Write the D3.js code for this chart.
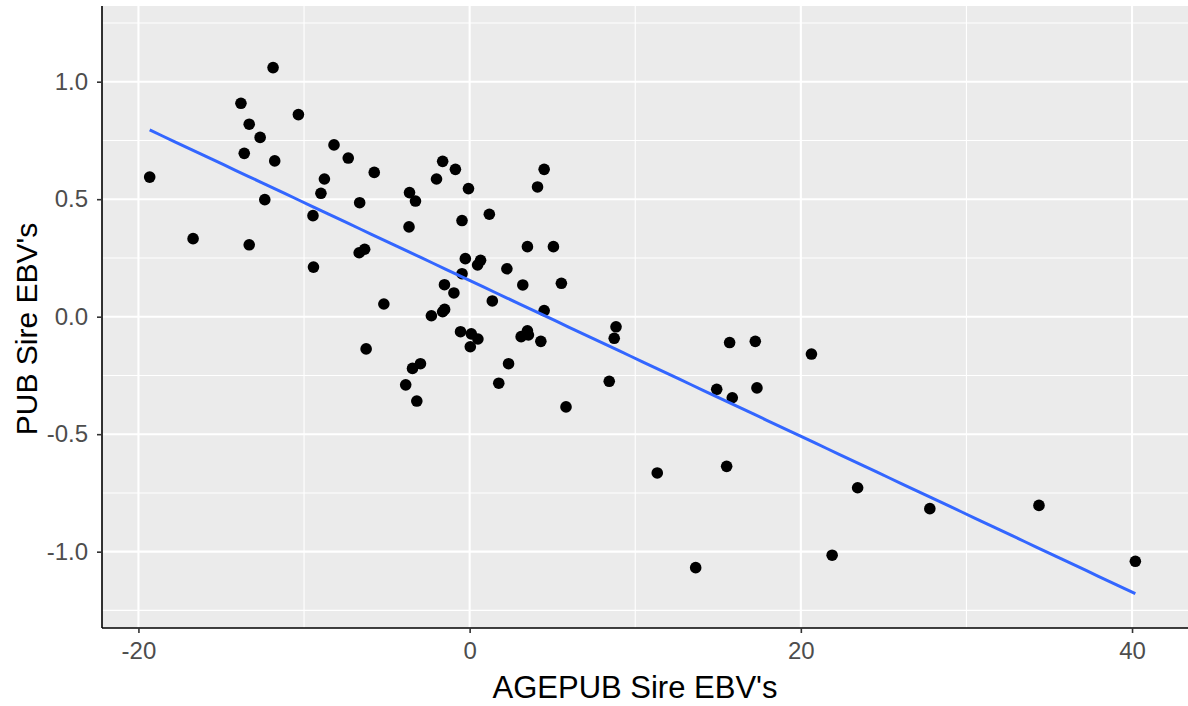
<!DOCTYPE html>
<html>
<head>
<meta charset="utf-8">
<script src="https://cdn.jsdelivr.net/npm/d3@7"></script>
<style>
  html, body { margin: 0; padding: 0; background: #ffffff; }
  svg { display: block; }
  text { font-family: "Liberation Sans", Arial, sans-serif; }
</style>
</head>
<body>
<svg id="chart" width="1188" height="706"></svg>
<script>
// Sire EBVs: age at puberty (x) against puberty (y)
const ageEBV = [
  -19.32, -16.7, -13.81, -13.61, -13.31, -13.31, -12.65, -12.37, -11.87, -11.77,
  -10.34, -9.46, -9.43, -8.98, -8.77, -8.19, -7.33, -6.67, -6.34, -6.64,
  -6.25, -5.76, -5.18, -3.86, -3.66, -3.63, -3.45, -3.27, -3.19, -2.97,
  -2.31, -2.0, -1.63, -1.63, -1.52, -1.51, -0.95, -0.86, -0.55, -0.46,
  -0.46, -0.26, -0.07, 0.1, 0.5, 0.04, 0.48, 0.66, 1.19, 1.37,
  1.76, 2.25, 2.35, 3.11, 3.49, 3.55, 3.21, 3.49, 4.1, 4.3,
  4.5, 4.5, 5.06, 5.54, 5.82, 8.43, 8.73, 8.84, 11.33, 13.65,
  14.92, 15.52, 15.7, 15.86, 17.25, 17.35, 20.64, 21.89, 23.43, 27.79,
  34.38, 40.2
];
const pubEBV = [
  0.594, 0.332, 0.908, 0.695, 0.819, 0.306, 0.763, 0.498, 1.06, 0.663,
  0.86, 0.43, 0.211, 0.525, 0.586, 0.731, 0.675, 0.272, 0.287, 0.485,
  -0.137, 0.614, 0.054, -0.29, 0.382, 0.528, -0.22, 0.492, -0.359, -0.2,
  0.004, 0.586, 0.661, 0.021, 0.136, 0.031, 0.101, 0.627, -0.064, 0.409,
  0.183, 0.247, 0.545, -0.073, -0.095, -0.128, 0.22, 0.24, 0.436, 0.067,
  -0.283, 0.204, -0.2, -0.085, -0.06, -0.078, 0.135, 0.298, 0.552, -0.105,
  0.627, 0.026, 0.298, 0.142, -0.384, -0.275, -0.092, -0.043, -0.665, -1.068,
  -0.309, -0.637, -0.11, -0.345, -0.105, -0.303, -0.159, -1.015, -0.728, -0.817,
  -0.803, -1.041
];

const xMajor = [-20, 0, 20, 40];
const xMinor = [-10, 10, 30];
const yMajor = [-1.0, -0.5, 0.0, 0.5, 1.0];
const yMinor = [-1.25, -0.75, -0.25, 0.25, 0.75, 1.25];
const xTitle = "AGEPUB Sire EBV's";
const yTitle = "PUB Sire EBV's";

const panel = { left: 102, right: 1190, top: 6, bottom: 628 };

const x = d3.scaleLinear().domain([-22.2, 43.5]).range([panel.left, panel.right]);
const y = d3.scaleLinear().domain([-1.3248, 1.3221]).range([panel.bottom, panel.top]);

const svg = d3.select("#chart");

// panel background
svg.append("rect")
  .attr("x", panel.left).attr("y", panel.top)
  .attr("width", panel.right - panel.left).attr("height", panel.bottom - panel.top)
  .attr("fill", "#EBEBEB");

const grid = svg.append("g");
grid.selectAll("line.ymin").data(yMinor).join("line")
  .attr("x1", panel.left).attr("x2", panel.right)
  .attr("y1", d => y(d)).attr("y2", d => y(d))
  .attr("stroke", "#ffffff").attr("stroke-width", 1.1);
grid.selectAll("line.xmin").data(xMinor).join("line")
  .attr("y1", panel.top).attr("y2", panel.bottom)
  .attr("x1", d => x(d)).attr("x2", d => x(d))
  .attr("stroke", "#ffffff").attr("stroke-width", 1.1);
grid.selectAll("line.ymaj").data(yMajor).join("line")
  .attr("x1", panel.left).attr("x2", panel.right)
  .attr("y1", d => y(d)).attr("y2", d => y(d))
  .attr("stroke", "#ffffff").attr("stroke-width", 2.1);
grid.selectAll("line.xmaj").data(xMajor).join("line")
  .attr("y1", panel.top).attr("y2", panel.bottom)
  .attr("x1", d => x(d)).attr("x2", d => x(d))
  .attr("stroke", "#ffffff").attr("stroke-width", 2.1);

// points
const pts = ageEBV.map((v, i) => ({ x: v, y: pubEBV[i] }));
svg.append("g").selectAll("circle").data(pts).join("circle")
  .attr("cx", d => x(d.x)).attr("cy", d => y(d.y))
  .attr("r", 5.8).attr("fill", "#000000");

// least-squares fit line
const mx = d3.mean(ageEBV), my = d3.mean(pubEBV);
let sxy = 0, sxx = 0;
pts.forEach(p => { sxy += (p.x - mx) * (p.y - my); sxx += (p.x - mx) * (p.x - mx); });
const slope = sxy / sxx;
const intercept = my - slope * mx;
const xr = d3.extent(ageEBV);
const fit = d3.range(0, 81).map(i => {
  const xv = xr[0] + (xr[1] - xr[0]) * i / 80;
  return { x: xv, y: intercept + slope * xv };
});
svg.append("path").datum(fit)
  .attr("d", d3.line().x(d => x(d.x)).y(d => y(d.y)))
  .attr("fill", "none").attr("stroke", "#3366FF").attr("stroke-width", 3);

// axes (plain hyphen for negative labels)
const xAxis = d3.axisBottom(x).tickValues(xMajor).tickFormat(d => String(d))
  .tickSize(5).tickPadding(9);
const yAxis = d3.axisLeft(y).tickValues(yMajor).tickFormat(d => d.toFixed(1))
  .tickSize(5).tickPadding(9);

const gx = svg.append("g").attr("transform", `translate(0,${panel.bottom})`).call(xAxis);
const gy = svg.append("g").attr("transform", `translate(${panel.left},0)`).call(yAxis);
[gx, gy].forEach(g => {
  g.select(".domain").attr("stroke", "#000000").attr("stroke-width", 1.6);
  g.selectAll(".tick line").attr("stroke", "#333333").attr("stroke-width", 1.6);
  g.selectAll(".tick text").attr("fill", "#4D4D4D")
    .style("font-family", "'Liberation Sans', Arial, sans-serif").style("font-size", "24px");
});
gx.select(".domain").attr("d", `M${panel.left},0H${panel.right}`);
gy.select(".domain").attr("d", `M0,${panel.top}V${panel.bottom}`);

// axis titles
svg.append("text")
  .attr("x", (panel.left + panel.right) / 2 - 11).attr("y", 698)
  .attr("text-anchor", "middle").attr("fill", "#000000")
  .style("font-size", "31px").text(xTitle);
svg.append("text")
  .attr("transform", `translate(37,329) rotate(-90)`)
  .attr("text-anchor", "middle").attr("fill", "#000000")
  .style("font-size", "30px").text(yTitle);
</script>
</body>
</html>
